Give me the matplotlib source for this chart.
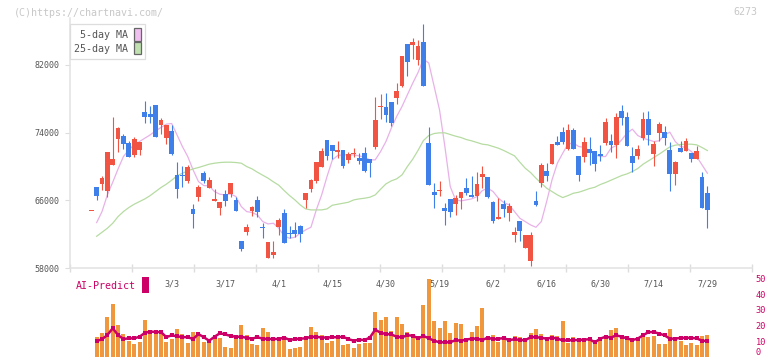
import numpy as np
import matplotlib.pyplot as plt
from matplotlib.patches import Patch, Rectangle

nan = np.nan

# daily candles, 2/6 .. 7/29
opens = [64700, 67580, 67974, 67107, 70219, 73293, 73608, 72781, 71362, 71953,
         76445, 76208, 77272, 74908, 73411, 74198, 69000, 69000, 68289, 64979,
         66398, 69195, 67462, 65925, 65098, 66752, 66752, 66043, 61197, 62261,
         64743, 66043, 62800, 59187, 59582, 62812, 64546, 62060, 62497, 63010,
         66043, 67343, 68289, 69983, 73135, 72544, 71756, 71953, 70771, 71480,
         71047, 71598, 70850, 72268, 76956, 76996, 77627, 78099, 79518, 84443,
         84285, 82512, 84719, 72781, 66989, 67050, 65098, 66162, 65570, 66319,
         67462, 66635, 66556, 68801, 68801, 65846, 63797, 65610, 64546, 61945,
         63561, 60330, 58872, 65925, 68092, 69470, 70298, 72899, 74081, 72071,
         74317, 71283, 71126, 72071, 71835, 71480, 72781, 73017, 72544, 76563,
         75854, 71244, 71244, 73372, 75617, 71480, 74002, 74081, 71953, 69116,
         72190, 71835, 71598, 70889, 68762, 66871]
highs = [64750, 67580, 68880, 71717, 75854, 74711, 73884, 73057, 73490, 72899,
         77666, 77154, 77272, 75696, 74908, 74908, 70535, 70022, 70180, 65570,
         67856, 69470, 68722, 67343, 65807, 67225, 68053, 66398, 61197, 63207,
         65334, 66516, 63364, 61079, 61197, 63876, 64980, 63010, 63443, 63088,
         66870, 68565, 70535, 72229, 73135, 72544, 73056, 71953, 71716, 72150,
         71559, 72347, 70850, 78178, 78572, 78651, 77627, 79873, 82985, 84443,
         85191, 84876, 86846, 74672, 68053, 68289, 65689, 66162, 66595, 66989,
         68643, 68920, 69353, 70101, 68801, 65925, 66319, 66043, 65649, 62891,
         63561, 61906, 62221, 67107, 70377, 70456, 72663, 73608, 74672, 74987,
         74514, 71283, 73490, 73490, 71835, 72544, 75736, 73844, 76327, 77272,
         76445, 72308, 72544, 76445, 76563, 73017, 75263, 74790, 72899, 70653,
         73017, 73372, 71598, 72426, 69353, 67698]
lows = [64700, 66083, 67264, 66400, 70219, 71756, 72071, 71126, 71126, 71362,
        75066, 75105, 73529, 73805, 72702, 71362, 66319, 67620, 68053, 62773,
        65925, 68053, 67462, 65925, 64270, 65334, 66398, 64743, 60015, 61945,
        64152, 64073, 61591, 59148, 59148, 61906, 60999, 61512, 61630, 61118,
        65058, 67028, 68013, 69983, 70771, 70929, 71047, 69864, 70456, 71165,
        70259, 69392, 68801, 72032, 75617, 75184, 74829, 77390, 79321, 80700,
        82670, 82000, 79439, 67856, 65137, 66556, 63128, 64073, 64310, 65019,
        66674, 66437, 65925, 67462, 66319, 63364, 63797, 64073, 63561, 61118,
        61236, 60330, 58281, 65374, 67619, 68289, 70298, 72584, 72663, 71953,
        72110, 68289, 70535, 70219, 69471, 70653, 72544, 71756, 71008, 74908,
        72426, 69353, 70889, 73135, 72544, 70062, 73056, 72544, 67107, 67816,
        71717, 71835, 70535, 70889, 65098, 62734]
closes = [64750, 66555, 68604, 71717, 70889, 74593, 72702, 71126, 73254, 72899,
          75854, 75854, 73529, 75499, 74908, 71480, 67383, 68900, 69943, 64388,
          67580, 68289, 68407, 66161, 65807, 65925, 68053, 64743, 60251, 62852,
          65216, 64664, 62700, 61079, 59897, 63679, 60999, 62000, 62020, 62020,
          66870, 68407, 70535, 71835, 71283, 71874, 71953, 70062, 71480, 71520,
          70653, 69470, 70456, 75499, 77000, 76011, 75145, 78927, 82985, 82276,
          84640, 84246, 79439, 67856, 66674, 67130, 64783, 64664, 66319, 66989,
          66871, 66437, 67935, 69156, 66437, 63561, 63994, 64980, 65334, 62261,
          62418, 61906, 61906, 65452, 70180, 68919, 72663, 72584, 72859, 74317,
          72110, 68998, 72899, 71559, 70298, 71244, 75263, 72544, 75854, 75736,
          72426, 70416, 72071, 75617, 73726, 72662, 75026, 73372, 69116, 70535,
          71717, 73017, 70889, 71835, 65098, 64861]

ma5 = [nan, 63364, 64664, 66634, 68131, 69707, 71165, 71953, 72544, 72938,
       73332, 73726, 74199, 74593, 74987, 75066, 73726, 72347, 71165, 69589,
       68210, 67738, 67698, 67028, 66713, 66634, 66752, 66437, 65255, 64664,
       64560, 64270, 63482, 63206, 63285, 62694, 61788, 61512, 61630, 62103,
       62497, 62812, 64861, 66634, 68801, 70771, 71283, 71362, 71362, 71362,
       71244, 71086, 70771, 70771, 71756, 72938, 74514, 75893, 77075, 78454,
       79833, 81100, 82670, 82197, 79439, 76681, 72347, 67619, 66043, 65925,
       66043, 66161, 66437, 67146, 67422, 67028, 66240, 65728, 65452, 64664,
       63876, 63482, 63088, 62812, 63482, 65846, 68407, 70377, 71559, 72662,
       72741, 72347, 72250, 71835, 71362, 71165, 71165, 72150, 72465, 73135,
       73923, 74396, 73647, 73332, 73135, 72938, 73017, 73726, 74041, 72938,
       72347, 72229, 71756, 71165, 70180, 69195]
ma25 = [nan, 61748, 62221, 62694, 63285, 64073, 64664, 65137, 65531, 65846,
        66161, 66555, 67028, 67501, 67895, 68368, 68880, 69195, 69470, 69707,
        69864, 70062, 70259, 70377, 70456, 70495, 70495, 70456, 70377, 69983,
        69707, 69313, 68959, 68605, 68171, 67777, 67146, 66556, 66043, 65452,
        64980, 64861, 64861, 64861, 64980, 65413, 65531, 65649, 65767, 66043,
        66161, 66240, 66358, 66634, 67304, 67934, 68289, 68526, 68998, 69983,
        70850, 71900, 73056, 73647, 73884, 73962, 73962, 73766, 73569, 73411,
        73175, 73017, 72820, 72623, 72544, 72347, 72150, 71874, 71559, 71244,
        70495, 69785, 69273, 68605, 68013, 67422, 67028, 66634, 66319, 66556,
        66831, 66950, 67160, 67383, 67540, 67856, 68092, 68368, 68643, 68919,
        69116, 69392, 69747, 70259, 70653, 71047, 71441, 71874, 72308, 72505,
        72584, 72623, 72623, 72544, 72229, 71874]

volume = [nan, 12.8, 15.4, 25.5, 33.9, 20.4, 14.7, 10.3, 8.4, 9.7,
          23.6, 17.3, 16.0, 16.0, 9.7, 11.6, 17.9, 14.7, 9.1, 16.0,
          14.7, 9.7, 10.3, 14.1, 12.2, 6.5, 5.9, 13.5, 20.4, 14.1,
          8.4, 7.8, 18.5, 16.0, 11.6, 11.6, 11.6, 5.3, 5.9, 6.5,
          11.6, 19.2, 16.0, 14.1, 9.1, 10.3, 11.6, 7.8, 8.4, 5.9,
          8.4, 9.1, 9.1, 28.7, 23.6, 25.5, 16.6, 25.5, 21.1, 16.0,
          14.1, 10.9, 33.1, 49.6, 23.0, 18.5, 23.0, 15.2, 21.8, 21.3,
          10.9, 16.0, 19.8, 31.2, 12.8, 14.1, 9.7, 12.8, 10.9, 13.5,
          12.8, 10.3, 15.4, 17.9, 14.7, 10.9, 14.1, 13.5, 23.0, 9.1,
          12.8, 11.6, 11.6, 10.9, 8.4, 10.3, 13.5, 17.3, 18.5, 12.2,
          11.6, 10.9, 10.3, 13.5, 12.8, 13.5, 8.4, 8.4, 17.9, 10.9,
          10.3, 7.8, 9.1, 7.8, 13.5, 14.1]
ai_predict = [nan, 10.3, 11.4, 14.1, 18.4, 14.0, 11.6, 12.0, 12.0, 13.0,
              15.5, 16.3, 16.0, 16.0, 12.8, 13.9, 13.3, 12.8, 12.7, 11.6,
              14.7, 12.7, 10.5, 13.0, 15.2, 14.5, 13.5, 13.0, 13.0, 12.3,
              11.8, 12.7, 11.8, 11.6, 11.6, 11.6, 12.5, 11.0, 11.5, 11.8,
              12.0, 13.0, 13.0, 12.5, 12.5, 12.7, 12.7, 13.0, 11.5, 10.5,
              11.2, 10.9, 12.5, 17.5, 15.5, 14.7, 14.5, 13.0, 12.7, 13.9,
              13.7, 12.0, 13.5, 12.0, 10.5, 9.5, 9.5, 9.5, 10.9, 10.5,
              11.2, 11.8, 11.8, 10.9, 12.5, 11.4, 11.8, 12.1, 10.9, 11.4,
              11.0, 10.8, 12.7, 12.8, 12.3, 11.8, 12.5, 11.8, 10.7, 10.7,
              10.9, 10.9, 11.2, 11.4, 9.5, 11.8, 13.0, 12.5, 13.9, 13.0,
              12.0, 10.9, 11.8, 14.0, 15.9, 16.0, 15.0, 13.9, 11.8, 11.8,
              12.3, 12.3, 12.3, 12.0, 10.5, 10.3]

date_labels = ['3/3', '3/17', '4/1', '4/15', '4/30', '5/19', '6/2', '6/16', '6/30', '7/14', '7/29']
date_index = [15, 25, 35, 45, 55, 65, 75, 85, 95, 105, 115]
price_ticks = [58000, 66000, 74000, 82000]
ai_ticks = [0, 10, 20, 30, 40, 50]

RED = '#f25444'
BLUE = '#3f7fea'
MAGENTA = '#cc0066'
MONO = 'DejaVu Sans Mono'

o = np.array(opens, float)
h = np.array(highs, float)
l = np.array(lows, float)
c = np.array(closes, float)
x = np.arange(len(o))
colors = [RED if cc >= oo else BLUE for oo, cc in zip(o, c)]

fig = plt.figure(figsize=(7.72, 3.61), dpi=100)
W, H = 772, 361
ax = fig.add_axes([70 / W, 93 / H, 682 / W, 250 / H])
xlim = (-3.976, 123.33)

ax.vlines(x, l, h, colors=colors, linewidth=0.8, zorder=2)
body_lo = np.minimum(o, c)
body_h = np.maximum(np.abs(c - o), 120)
ax.bar(x, body_h, bottom=body_lo, width=0.9, color=colors, linewidth=0, zorder=3)
ax.plot(x, ma5, color='#e8b2e8', linewidth=0.9, zorder=1)
ax.plot(x, ma25, color='#b6dca2', linewidth=0.9, zorder=1)

ax.set_xlim(*xlim)
ax.set_ylim(58000, 58000 + 250 * 118.1)
for s in ['top', 'right']:
    ax.spines[s].set_visible(False)
for s in ['left', 'bottom']:
    ax.spines[s].set_color('#e2e2e2')
    ax.spines[s].set_linewidth(1.1)

ax.set_yticks(price_ticks)
ax.set_yticklabels([str(p) for p in price_ticks], family=MONO, fontsize=6, color='#555555')
ax.tick_params(axis='y', length=3.6, width=0.8, color='#dddddd', pad=4)
ax.set_xticks(date_index)
ax.set_xticklabels(date_labels, family=MONO, fontsize=6, color='#555555')
ax.set_xticks(np.linspace(xlim[0], xlim[1], 12), minor=True)
ax.tick_params(axis='x', which='major', length=0, pad=8)
ax.tick_params(axis='x', which='minor', direction='inout', length=5.8, width=1.0, color='#dddddd')

handles = [Patch(facecolor='#f0c0f0', edgecolor='#666666', linewidth=0.9),
           Patch(facecolor='#c0e0b0', edgecolor='#666666', linewidth=0.9)]
leg = ax.legend(handles, ['5-day MA', '25-day MA'], markerfirst=False, loc='upper left',
                bbox_to_anchor=(70 / W, 1 - 24 / H), bbox_transform=fig.transFigure,
                borderaxespad=0, fancybox=False, framealpha=1, edgecolor='#dddddd',
                prop={'family': MONO, 'size': 7.2}, labelcolor='#555555',
                handlelength=0.7, handleheight=1.5, handletextpad=0.5,
                borderpad=0.45, labelspacing=0.15)
leg.get_frame().set_linewidth(0.9)
leg.set_zorder(10)

# AI-Predict panel
vax = fig.add_axes([70 / W, 3.7 / H, 682 / W, 79 / H])
vax.patch.set_alpha(0)
vax.bar(x, volume, width=0.75, color='#f0963c', linewidth=0, clip_on=False)
vax.plot(x, ai_predict, color=MAGENTA, linewidth=1.8, marker='s', markersize=2.4,
         markeredgewidth=0, clip_on=False)
vax.set_xlim(*xlim)
vax.set_ylim(0, 50)
for s in vax.spines.values():
    s.set_visible(False)
vax.set_xticks([])
vax.yaxis.tick_right()
vax.set_yticks(ai_ticks)
vax.set_yticklabels([str(t) for t in ai_ticks], family=MONO, fontsize=6.2, color=MAGENTA)
vax.tick_params(axis='y', length=0, pad=2.5)
vax.get_yticklabels()[0].set_va('bottom')

fig.text(76 / W, 1 - 286 / H, 'AI-Predict', family=MONO, fontsize=7.2, color=MAGENTA, va='center')
fig.patches.append(Rectangle((142 / W, 1 - 292.7 / H), 6.7 / W, 16 / H,
                             transform=fig.transFigure, facecolor=MAGENTA, edgecolor='none'))

fig.text(14 / W, 1 - 12.5 / H, '(C)https://chartnavi.com/', family=MONO, fontsize=7.2,
         color='#c8c8c8', va='center')
fig.text(757 / W, 1 - 12 / H, '6273', family=MONO, fontsize=7.2, color='#c8c8c8',
         va='center', ha='right')

fig.savefig('out.png', dpi=100)
